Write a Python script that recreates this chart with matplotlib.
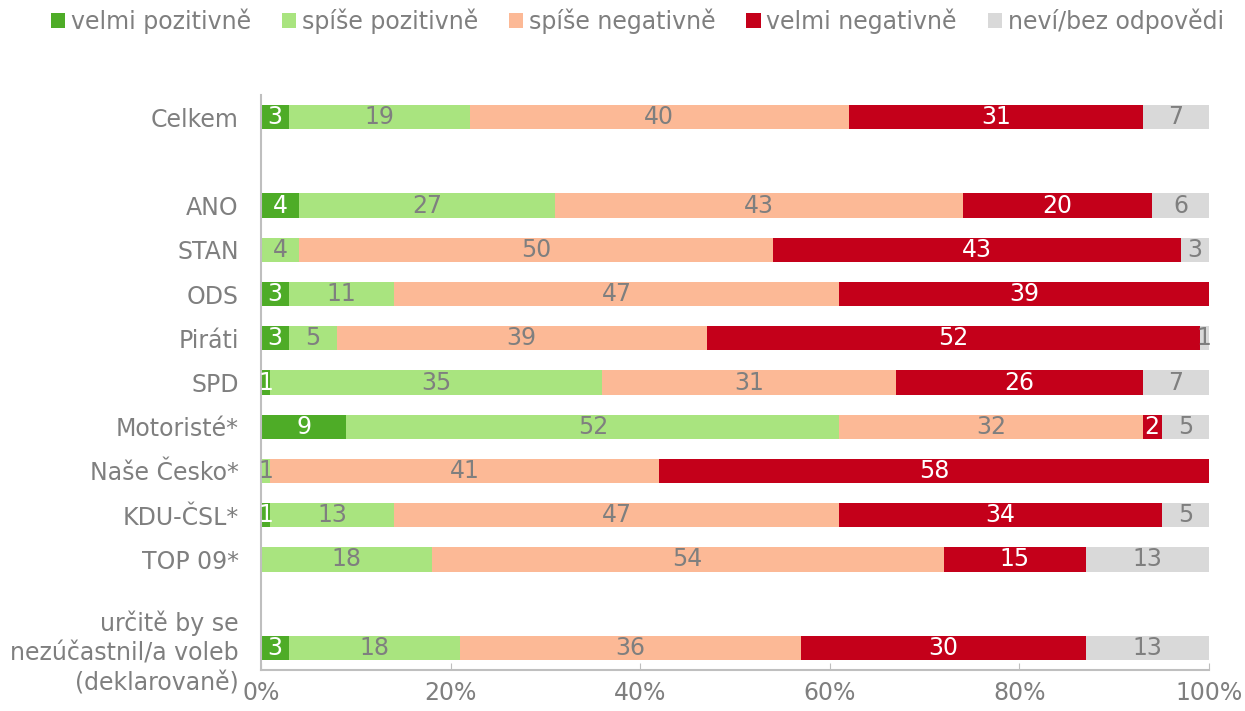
import matplotlib.pyplot as plt
from matplotlib.patches import Patch
import numpy as np

# kategorie (shora dolu) a pozice radku (mezery po Celkem a pred poslednim)
kategorie = ["Celkem", "ANO", "STAN", "ODS", "Piráti", "SPD", "Motoristé*",
             "Naše Česko*", "KDU-ČSL*", "TOP 09*",
             "určitě by se\nnezúčastnil/a voleb\n(deklarovaně)"]
pozice = [0, 2, 3, 4, 5, 6, 7, 8, 9, 10, 12]

velmi_poz = [3, 4, 0, 3, 3, 1, 9, 0, 1, 0, 3]
spise_poz = [19, 27, 4, 11, 5, 35, 52, 1, 13, 18, 18]
spise_neg = [40, 43, 50, 47, 39, 31, 32, 41, 47, 54, 36]
velmi_neg = [31, 20, 43, 39, 52, 26, 2, 58, 34, 15, 30]
nevi = [7, 6, 3, 0, 1, 7, 5, 0, 5, 13, 13]

serie = [
    ("velmi pozitivně", velmi_poz, "#4eac27", "white"),
    ("spíše pozitivně", spise_poz, "#a9e47f", "#7f7f7f"),
    ("spíše negativně", spise_neg, "#fcb996", "#7f7f7f"),
    ("velmi negativně", velmi_neg, "#c4001a", "white"),
    ("neví/bez odpovědi", nevi, "#d9d9d9", "#7f7f7f"),
]

seda = "#7f7f7f"
osa = "#bfbfbf"
fs = 17

fig = plt.figure(figsize=(12.45, 7.11), dpi=100)
ax = fig.add_axes([261 / 1245, 1 - 670 / 711, (1209 - 261) / 1245, (670 - 95) / 711])

y = np.array(pozice)
left = np.zeros(len(kategorie))
for nazev, hodnoty, barva, txt in serie:
    h = np.array(hodnoty, dtype=float)
    ax.barh(y, h / 100.0, left=left / 100.0, height=0.55, color=barva, edgecolor="none")
    for yi, l, v in zip(y, left, h):
        if v > 0:
            ax.text((l + v / 2) / 100.0, yi, f"{int(v)}", ha="center", va="center",
                    color=txt, fontsize=fs)
    left += h

ax.set_xlim(0, 1)
ax.set_ylim(12.5, -0.5)
ax.set_yticks(y)
ax.set_yticklabels(kategorie, fontsize=fs, color=seda, linespacing=1.3)
ax.set_xticks(np.arange(0, 1.01, 0.2))
ax.set_xticklabels([f"{int(round(t * 100))}%" for t in np.arange(0, 1.01, 0.2)],
                   fontsize=fs, color=seda)
ax.tick_params(axis="y", length=0, pad=16)
ax.tick_params(axis="x", direction="in", length=5, color=osa, pad=8)
for s in ["top", "right"]:
    ax.spines[s].set_visible(False)
ax.spines["left"].set_color(osa)
ax.spines["bottom"].set_color(osa)
ax.spines["left"].set_linewidth(1.5)
ax.spines["bottom"].set_linewidth(1.5)

handles = [Patch(facecolor=b, edgecolor="none", label=n) for n, _, b, _ in serie]
leg = fig.legend(handles=handles, loc="upper center", bbox_to_anchor=(0.512, 1.005),
                 ncol=5, frameon=False, fontsize=fs, handlelength=0.6, handleheight=0.6,
                 handletextpad=0.25, columnspacing=1.3, borderaxespad=0.1)
for t in leg.get_texts():
    t.set_color(seda)

fig.savefig("out.png", dpi=100)
